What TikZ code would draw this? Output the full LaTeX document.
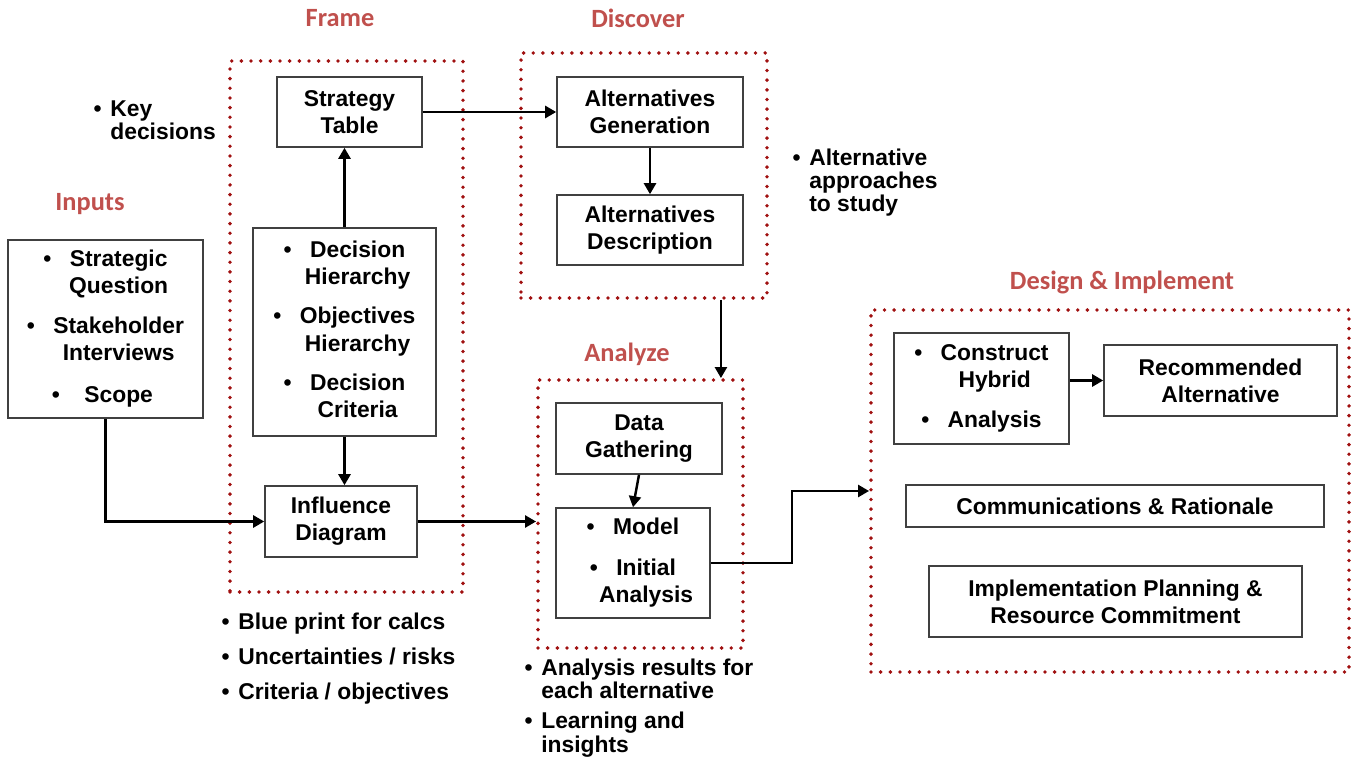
\documentclass[tikz,border=0pt]{standalone}
\usepackage{fontspec}
\setmainfont{Liberation Sans}
\newfontfamily\headfont{Carlito}
\usetikzlibrary{arrows.meta,positioning,calc}
\definecolor{headred}{RGB}{192,80,77}
\definecolor{dotred}{RGB}{160,16,16}
\newcommand{\pxl}[1]{#1*0.02cm}
\newcommand{\bl}{\llap{\textbullet\hspace{10.5pt}}}
\newcommand{\sbl}{\llap{\textbullet\hspace{5pt}}}

\begin{document}
\begin{tikzpicture}[x=0.02cm, y=-0.02cm,
  box/.style={draw=black!75, line width=0.9pt, align=center, inner sep=0pt, font=\fontsize{13}{15.5}\selectfont\bfseries},
  phase/.style={draw=dotred, line width=2.2pt, dash pattern=on 0pt off 5.5pt, line cap=round, inner sep=0pt},
  head/.style={text=headred, font=\headfont\fontsize{15}{18}\selectfont\bfseries},
  note/.style={anchor=base west, align=left, inner sep=0pt, font=\fontsize{13}{13.2}\selectfont\bfseries},
  arr/.style={-{Triangle[length=0.22cm,width=0.24cm]}, line width=1.4pt}]
\useasboundingbox (0,0) rectangle (1353,760);
%phases
\node[phase, minimum width=\pxl{233}, minimum height=\pxl{531}] (frame) at (346.5,326.5) {};
\node[phase, minimum width=\pxl{246}, minimum height=\pxl{245}] (discover) at (644,175.5) {};
\node[phase, minimum width=\pxl{205}, minimum height=\pxl{268}] (analyze) at (640.5,514) {};
\node[phase, minimum width=\pxl{478}, minimum height=\pxl{362}] (design) at (1110,491) {};
\node[head] (frameh) at (340,18) {Frame};
\node[head] (discoverh) at (638,18) {Discover};
\node[head] (inputsh) at (90,204) {Inputs};
\node[head] (analyzeh) at (627,354) {Analyze};
\node[head] (designh) at (1122,282) {Design \& Implement};
%nodes
\node[box, minimum width=\pxl{195}, minimum height=\pxl{178}] (inputs) at (105.5,329)
  {\begin{tabular}{@{\hspace{15pt}}c@{}}\bl Strategic\\Question\\[7pt]\bl Stakeholder\\Interviews\\[8.5pt]\llap{\textbullet\hspace{14pt}}Scope\end{tabular}};
\node[box, minimum width=\pxl{145}, minimum height=\pxl{70}] (strat) at (349.5,112) {Strategy\\Table};
\node[box, minimum width=\pxl{183}, minimum height=\pxl{208}] (dechier) at (344.5,332)
  {\begin{tabular}{@{\hspace{15pt}}c@{}}\bl Decision\\Hierarchy\\[7pt]\bl Objectives\\Hierarchy\\[7pt]\bl Decision\\Criteria\end{tabular}};
\node[box, minimum width=\pxl{152}, minimum height=\pxl{71}] (infl) at (341,521.5) {Influence\\Diagram};
\node[box, minimum width=\pxl{186}, minimum height=\pxl{70}] (altgen) at (650,112) {Alternatives\\Generation};
\node[box, minimum width=\pxl{186}, minimum height=\pxl{70}] (altdesc) at (650,230) {Alternatives\\Description};
\node[box, minimum width=\pxl{166}, minimum height=\pxl{71}] (dgath) at (639,438.5) {Data\\Gathering};
\node[box, minimum width=\pxl{154}, minimum height=\pxl{110}] (model) at (633,563)
  {\begin{tabular}{@{\hspace{15pt}}c@{}}\bl Model\\[8pt]\bl Initial\\Analysis\end{tabular}};
\node[box, minimum width=\pxl{175}, minimum height=\pxl{111}] (hybrid) at (981.5,388.5)
  {\begin{tabular}{@{\hspace{15pt}}c@{}}\bl Construct\\Hybrid\\[7pt]\bl Analysis\end{tabular}};
\node[box, minimum width=\pxl{233}, minimum height=\pxl{71}] (recalt) at (1220.5,380.5) {Recommended\\Alternative};
\node[box, minimum width=\pxl{418}, minimum height=\pxl{42}] (comm) at (1115,506) {Communications \& Rationale};
\node[box, minimum width=\pxl{373}, minimum height=\pxl{71}] (impl) at (1115.5,601.5) {Implementation Planning \&\\Resource Commitment};
%notes (placed on the baseline of their last line)
\node[note] (keydec) at (110,140) {\sbl Key\\decisions};
\node[note] (altnote) at (809,212) {\sbl Alternative\\approaches\\to study};
\node[note] (framenote) at (238,699) {\sbl Blue print for calcs\\[6.5pt]\sbl Uncertainties / risks\\[6.5pt]\sbl Criteria / objectives};
\node[note] (anznote) at (541,752) {\sbl Analysis results for\\each alternative\\[4pt]\sbl Learning and\\insights};
%connectors
\draw[arr] (strat.east) -- (altgen.west);
\draw[arr] (dechier.north) -- (dechier.north |- strat.south);
\draw[arr] (dechier.south) -- (dechier.south |- infl.north);
\draw[arr] (inputs.south) |- (infl.west);
\draw[arr] (altgen) -- (altdesc);
\draw[arr] ([xshift=-\pxl{24}]analyze.north east |- discover.south) -- ([xshift=-\pxl{24}]analyze.north east);
\draw[arr] (infl.east) -- (infl.east -| analyze.west);
\draw[arr] (dgath.south) -- (model.north);
\draw[arr] (model.east) -- ++(81,0) |- (design.west);
\draw[arr] (recalt.west -| hybrid.east) -- (recalt.west);
\end{tikzpicture}
\end{document}
